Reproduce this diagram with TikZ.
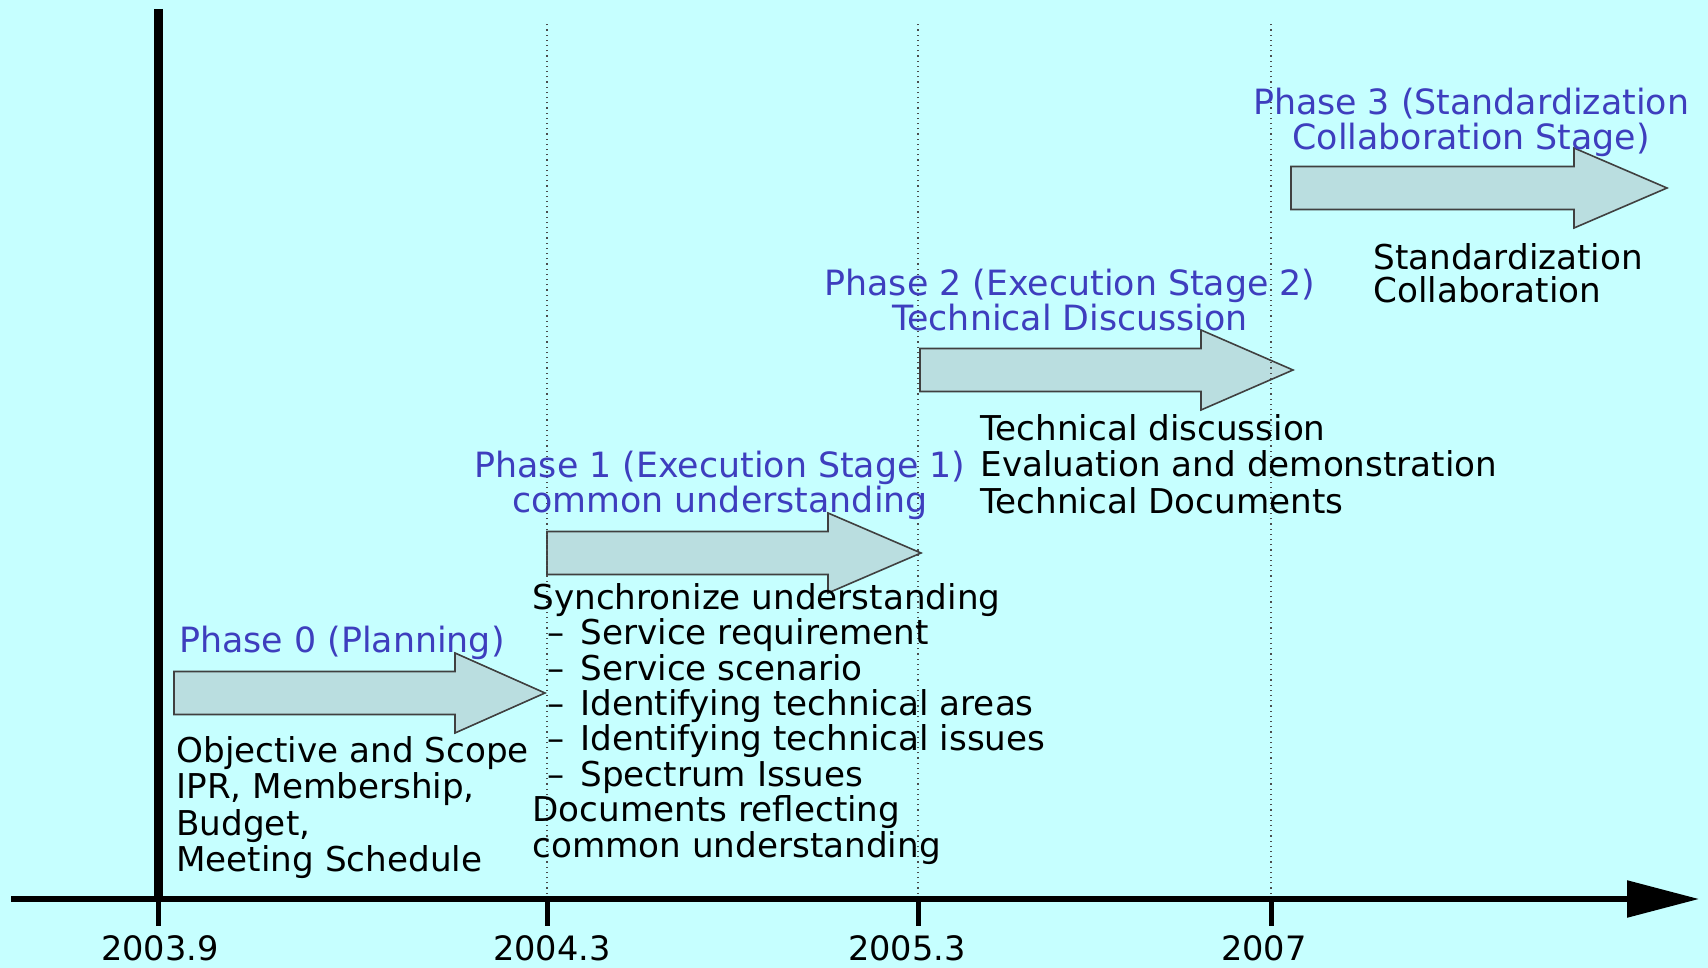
\documentclass[tikz,border=0pt]{standalone}
\usepackage{fontspec}
\setmainfont{DejaVu Sans}
\usetikzlibrary{positioning, arrows.meta}
\definecolor{bgcyan}{RGB}{198,255,255}
\definecolor{arrowfill}{RGB}{186,222,224}
\definecolor{phaseblue}{RGB}{62,62,190}
\tikzstyle{phasearrow} = [draw=black!75, fill=arrowfill, line width=0.8pt]
\tikzstyle{phasetitle} = [text=phaseblue, align=center, inner sep=0pt, font=\fontsize{17.4}{17.5}\selectfont]
\tikzstyle{desc} = [align=left, inner sep=0pt, anchor=north west, font=\fontsize{17.1}{18.2}\selectfont]
\tikzstyle{datelabel} = [inner sep=0pt, font=\fontsize{16.8}{18}\selectfont]
\tikzstyle{gridline} = [dotted, line width=0.6pt, black!70]
\tikzstyle{timeaxis} = [line width=2.75pt, -{Triangle[length=36pt,width=18pt]}]
\tikzstyle{tick} = [line width=2.5pt]

\begin{document}
\begin{tikzpicture}[x=0.5pt, y=-0.5pt]
    \fill[bgcyan] (0,0) rectangle (1708,968);
    \useasboundingbox (0,0) rectangle (1708,968);

    % time axis
    \coordinate (axstart) at (11,899);
    \coordinate (axend)   at (1699,899);
    \coordinate (t0) at (158,899);
    \coordinate (t1) at (547,899);
    \coordinate (t2) at (918,899);
    \coordinate (t3) at (1271,899);
    \coordinate (start line) at (158,9);

    % phase arrows
    \foreach \xa/\xh/\xt/\yc in {174/455/545/693, 547/828/921/553, 920/1201/1293/370, 1291/1574/1667/188}
        \draw[phasearrow] ({\xa},{\yc-21.5}) -- ({\xh},{\yc-21.5}) -- ({\xh},{\yc-40}) -- ({\xt},{\yc})
            -- ({\xh},{\yc+40}) -- ({\xh},{\yc+21.5}) -- ({\xa},{\yc+21.5}) -- cycle;

    \foreach \t in {t1, t2, t3}
        \draw[gridline] (\t) -- ++(0,-877);

    \draw[line width=4.5pt] (start line) -- (t0);
    \draw[timeaxis] (axstart) -- (axend);
    \foreach \t in {t0, t1, t2, t3}
        \draw[tick] (\t) -- ++(0,27);

    \node[datelabel] (date0) at (160,948)  {2003.9};
    \node[datelabel] (date1) at (552,948)  {2004.3};
    \node[datelabel] (date2) at (907,948)  {2005.3};
    \node[datelabel] (date3) at (1264,948) {2007};

    % phase titles
    \node[phasetitle, anchor=west] (phase0) at (179,643)  {Phase 0 (Planning)};
    \node[phasetitle]              (phase1) at (720,485)  {Phase 1 (Execution Stage 1)\\common understanding};
    \node[phasetitle]              (phase2) at (1070,300) {Phase 2 (Execution Stage 2)\\Technical Discussion};
    \node[phasetitle]              (phase3) at (1471,122) {Phase 3 (Standardization\\Collaboration Stage)};

    % phase contents
    \node[desc] (plan0) at (176,736)  {Objective and Scope\\IPR, Membership,\\Budget,\\Meeting Schedule};
    \node[desc, font=\fontsize{17.1}{17.7}\selectfont] (plan1) at (532,583)
        {Synchronize understanding\\
         \hspace*{7.5pt}–\hspace{8pt}Service requirement\\
         \hspace*{7.5pt}–\hspace{8pt}Service scenario\\
         \hspace*{7.5pt}–\hspace{8pt}Identifying technical areas\\
         \hspace*{7.5pt}–\hspace{8pt}Identifying technical issues\\
         \hspace*{7.5pt}–\hspace{8pt}Spectrum Issues\\
         Documents reflecting\\common understanding};
    \node[desc] (plan2) at (980,414)  {Technical discussion\\Evaluation and demonstration\\Technical Documents};
    \node[desc, font=\fontsize{17.1}{16.5}\selectfont] (plan3) at (1373,243) {Standardization\\Collaboration};
\end{tikzpicture}
\end{document}
